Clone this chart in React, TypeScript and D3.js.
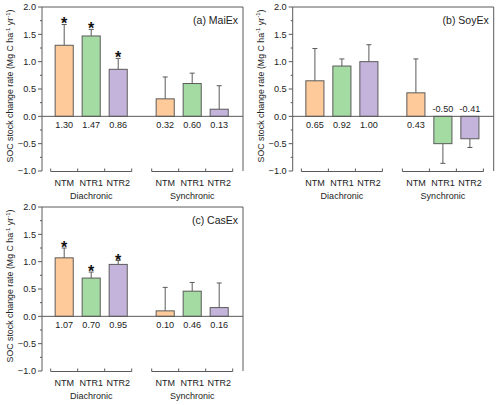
import React from "react";
import * as d3 from "d3";

const categories = ["NTM", "NTR1", "NTR2"];
const groups = ["Diachronic", "Synchronic"];
const panelTitles = ["(a) MaiEx", "(b) SoyEx", "(c) CasEx"];
const yTicks = [-1.0, -0.5, 0.0, 0.5, 1.0, 1.5, 2.0];

// order: Diachronic NTM, NTR1, NTR2, Synchronic NTM, NTR1, NTR2
const maiexValues = [1.30, 1.47, 0.86, 0.32, 0.60, 0.13];
const maiexErrors = [0.38, 0.12, 0.20, 0.40, 0.19, 0.43];
const maiexSig = [true, true, true, false, false, false];

const soyexValues = [0.65, 0.92, 1.00, 0.43, -0.50, -0.41];
const soyexErrors = [0.59, 0.13, 0.31, 0.62, 0.36, 0.16];
const soyexSig = [false, false, false, false, false, false];

const casexValues = [1.07, 0.70, 0.95, 0.10, 0.46, 0.16];
const casexErrors = [0.18, 0.11, 0.07, 0.43, 0.16, 0.45];
const casexSig = [true, true, true, false, false, false];

const fills = ["#FFCA9A", "#A4DBA2", "#C4B4DC"];
const FONT = "'Liberation Sans', Arial, sans-serif";
const AX = "#5a5a5a";

type PanelProps = {
  ox: number;
  oy: number;
  title: string;
  values: number[];
  errors: number[];
  sig: boolean[];
};

function Panel({ ox, oy, title, values, errors, sig }: PanelProps) {
  const left = 42;
  const right = 243;
  const y = d3.scaleLinear().domain([-1, 2]).range([171, 7]);
  const band = 27;
  const groupStart = [50.7, 151.7];
  const x = d3
    .scaleBand<string>()
    .domain(categories)
    .range([0, band * 3])
    .paddingInner(0.33)
    .paddingOuter(0.165);
  const minorTicks = d3.range(-1, 2.001, 0.25).filter((t) => Math.abs((t * 2) % 1) > 0.01);
  const y0 = y(0);
  return (
    <g transform={`translate(${ox},${oy})`} fontFamily={FONT}>
      {/* y axis title */}
      <text
        transform={`translate(13,86) rotate(-90)`}
        textAnchor="middle"
        fontSize={8.8}
        fill="#222"
      >
        SOC stock change rate (Mg C ha
        <tspan dy={-3.5} fontSize={6}>-1</tspan>
        <tspan dy={3.5}> yr</tspan>
        <tspan dy={-3.5} fontSize={6}>-1</tspan>
        <tspan dy={3.5}>)</tspan>
      </text>
      {/* frame */}
      <line x1={left} x2={left} y1={y(2)} y2={y(-1)} stroke={AX} strokeWidth={1} />
      <line x1={left} x2={right} y1={y(2)} y2={y(2)} stroke={AX} strokeWidth={1} />
      <line x1={right} x2={right} y1={y(2)} y2={y(-1)} stroke={AX} strokeWidth={1} />
      {yTicks.map((t) => (
        <g key={t}>
          <line x1={left - 4} x2={left} y1={y(t)} y2={y(t)} stroke={AX} />
          <text x={left - 6} y={y(t) + 3.3} textAnchor="end" fontSize={9.2} fill="#222">
            {t < 0 ? "\u2212" + Math.abs(t).toFixed(1) : t.toFixed(1)}
          </text>
        </g>
      ))}
      {minorTicks.map((t) => (
        <line key={"m" + t} x1={left - 2} x2={left} y1={y(t)} y2={y(t)} stroke={AX} />
      ))}
      {/* bars */}
      {values.map((v, i) => {
        const g = Math.floor(i / 3);
        const c = i % 3;
        const bx = groupStart[g] + (x(categories[c]) as number);
        const bw = x.bandwidth();
        const cx = bx + bw / 2;
        const top = Math.min(y(v), y0);
        const h = Math.abs(y(v) - y0);
        const errEnd = v >= 0 ? y(v + errors[i]) : y(v - errors[i]);
        return (
          <g key={i}>
            <line x1={cx} x2={cx} y1={y(v)} y2={errEnd} stroke={AX} strokeWidth={1} />
            <line x1={cx - 2.5} x2={cx + 2.5} y1={errEnd} y2={errEnd} stroke={AX} strokeWidth={1} />
            <rect x={bx} y={top} width={bw} height={h} fill={fills[c]} stroke={AX} strokeWidth={1} />
            {sig[i] && (
              <text x={cx} y={errEnd + 5} textAnchor="middle" fontSize={16} fontWeight="bold" fill="#111">
                *
              </text>
            )}
            <text
              x={cx}
              y={v >= 0 ? y0 + 12 : y0 - 4}
              textAnchor="middle"
              fontSize={9.1}
              fill="#222"
            >
              {v < 0 ? "-" + Math.abs(v).toFixed(2) : v.toFixed(2)}
            </text>
          </g>
        );
      })}
      {/* zero line */}
      <line x1={left} x2={right} y1={y0} y2={y0} stroke={AX} strokeWidth={1} />
      {/* panel title */}
      <text x={right - 5} y={y(2) + 17} textAnchor="end" fontSize={10.5} fill="#222">
        {title}
      </text>
      {/* category brackets */}
      {groups.map((gname, g) => (
        <g key={gname}>
          <line
            x1={groupStart[g]}
            x2={groupStart[g] + band * 3}
            y1={y(-1) + 0.5}
            y2={y(-1) + 0.5}
            stroke={AX}
          />
          {[0, 1, 2, 3].map((k) => (
            <line
              key={k}
              x1={groupStart[g] + band * k}
              x2={groupStart[g] + band * k}
              y1={y(-1) + 0.5}
              y2={y(-1) - 2.5}
              stroke={AX}
            />
          ))}
          {categories.map((cat, c) => (
            <text
              key={cat}
              x={groupStart[g] + band * (c + 0.5)}
              y={y(-1) + 14.5}
              textAnchor="middle"
              fontSize={9}
              fill="#222"
            >
              {cat}
            </text>
          ))}
          <text
            x={groupStart[g] + band * 1.5}
            y={y(-1) + 27.5}
            textAnchor="middle"
            fontSize={9}
            fill="#222"
          >
            {gname}
          </text>
        </g>
      ))}
    </g>
  );
}

export default function App() {
  return (
    <svg
      width={500}
      height={405}
      style={{ position: "absolute", left: 0, top: 0, background: "#fff" }}
    >
      <rect width={500} height={405} fill="#fff" />
      <Panel ox={0} oy={0} title={panelTitles[0]} values={maiexValues} errors={maiexErrors} sig={maiexSig} />
      <Panel ox={250.7} oy={0} title={panelTitles[1]} values={soyexValues} errors={soyexErrors} sig={soyexSig} />
      <Panel ox={0} oy={200} title={panelTitles[2]} values={casexValues} errors={casexErrors} sig={casexSig} />
    </svg>
  );
}
